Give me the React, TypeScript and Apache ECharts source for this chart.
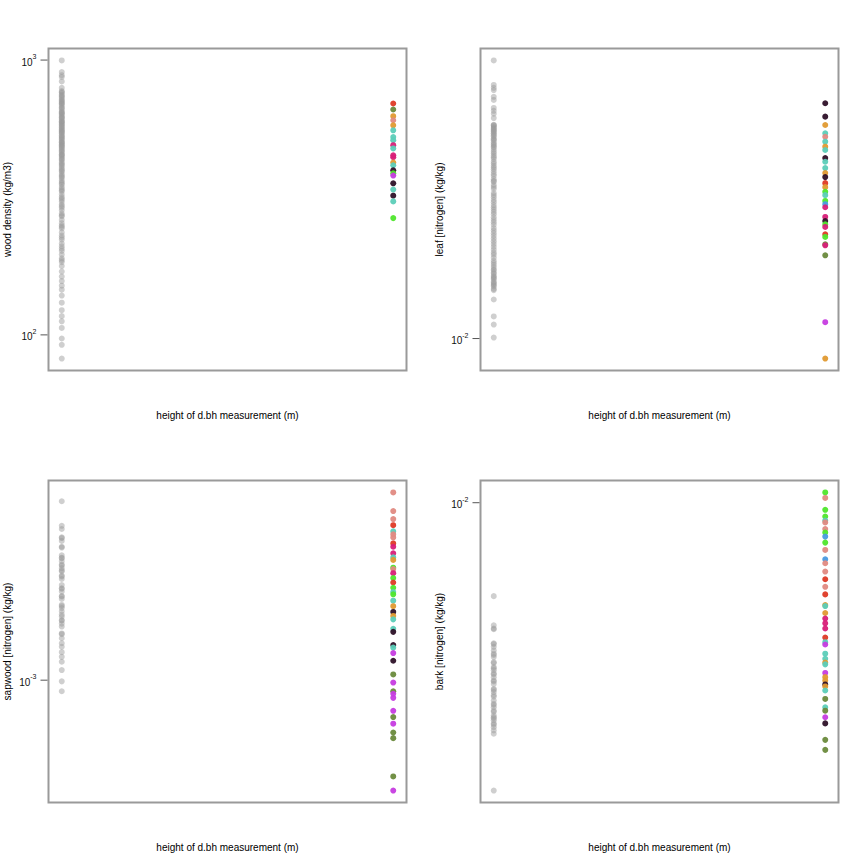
import React, { useEffect, useRef } from "react";
import * as echarts from "echarts";

// x positions (height of d.bh measurement, m)
const allStudiesHeight = 1.3;
const thisStudyHeight = 1.4;
const xRange = [allStudiesHeight, thisStudyHeight];

const panelTitles = [
  "wood density (kg/m3)",
  "leaf [nitrogen] (kg/kg)",
  "sapwood [nitrogen] (kg/kg)",
  "bark [nitrogen] (kg/kg)",
];
const xTitle = "height of d.bh measurement (m)";

const yTicks1 = [100, 1000];
const yTicks2 = [0.01];
const yTicks3 = [0.001];
const yTicks4 = [0.01];

// group (species) keys of the study, coloured by palette below
const groupColors: Record<string, string> = {
  R: "#de3a26",
  O: "#6a8a3c",
  Y: "#e09a32",
  P: "#e08a82",
  T: "#5ccdb8",
  M: "#d81f78",
  V: "#c63ce0",
  G: "#4fe62c",
  D: "#2e1128",
  B: "#4a9ae0",
};

// ---- wood density ----
const woodAll = [997, 905, 881, 868, 836, 792, 771, 765, 760, 748, 742, 735, 728, 718, 712, 706, 700, 695, 690, 681, 672, 668, 659, 650, 645, 641, 636, 630, 622, 618, 615, 608, 600, 598, 594, 590, 584, 580, 575, 570, 566, 560, 556, 552, 548, 544, 540, 533, 529, 525, 520, 516, 512, 505, 502, 500, 495, 491, 488, 484, 480, 475, 470, 466, 462, 455, 452, 450, 445, 440, 436, 432, 425, 420, 416, 412, 405, 400, 396, 392, 385, 380, 376, 372, 365, 360, 356, 352, 345, 340, 336, 333, 325, 318, 314, 310, 305, 298, 294, 290, 284, 276, 272, 270, 262, 255, 250, 247, 244, 236, 230, 226, 222, 215, 210, 206, 202, 196, 190, 187, 184, 178, 170, 163, 157, 151, 146, 139, 131, 123, 117, 112, 106, 97, 92, 82];
const woodStudy = [695, 661, 625, 604, 579, 555, 525, 511, 490, 477, 450, 443, 424, 414, 397, 387, 380, 356, 338, 321, 306, 266];
const woodGroups = ["R", "O", "Y", "P", "Y", "T", "T", "T", "M", "T", "M", "M", "Y", "T", "D", "G", "V", "D", "T", "D", "T", "G"];

// ---- leaf nitrogen ----
const leafAll = [0.0537, 0.0463, 0.0455, 0.0449, 0.0431, 0.0423, 0.0403, 0.0396, 0.0389, 0.0379, 0.0364, 0.0363, 0.0362, 0.0359, 0.0357, 0.0355, 0.0353, 0.0351, 0.0349, 0.0346, 0.0344, 0.0341, 0.0339, 0.0335, 0.0333, 0.0331, 0.0327, 0.0324, 0.0322, 0.0319, 0.0317, 0.0313, 0.0309, 0.0306, 0.0302, 0.0299, 0.0296, 0.0291, 0.0288, 0.0284, 0.0281, 0.0278, 0.0274, 0.0270, 0.0267, 0.0262, 0.0259, 0.0258, 0.0253, 0.0250, 0.0247, 0.0241, 0.0238, 0.0235, 0.0231, 0.0228, 0.0224, 0.0221, 0.0218, 0.0215, 0.0212, 0.0208, 0.0205, 0.0202, 0.0199, 0.0195, 0.0192, 0.0189, 0.0186, 0.0183, 0.0180, 0.0177, 0.0174, 0.0171, 0.0168, 0.0166, 0.0163, 0.0160, 0.0158, 0.0156, 0.0154, 0.0152, 0.0151, 0.0149, 0.0148, 0.0146, 0.0145, 0.0144, 0.0143, 0.0141, 0.0140, 0.0139, 0.0138, 0.0137, 0.0135, 0.0134, 0.01266, 0.01143, 0.01088, 0.01006];
const leafStudy = [0.04146, 0.03823, 0.03635, 0.03457, 0.03386, 0.03286, 0.03188, 0.03125, 0.02977, 0.02911, 0.02802, 0.02718, 0.02653, 0.02558, 0.02497, 0.02427, 0.02379, 0.02297, 0.02252, 0.02211, 0.02085, 0.02035, 0.01995, 0.01963, 0.01878, 0.01848, 0.01767, 0.01757, 0.01654, 0.01104, 0.00886];
const leafGroups = ["D", "D", "Y", "T", "P", "T", "Y", "T", "D", "T", "T", "Y", "D", "R", "Y", "G", "T", "G", "B", "M", "M", "D", "G", "M", "R", "G", "O", "M", "O", "V", "Y"];

// ---- sapwood nitrogen ----
const sapAll = [0.00460, 0.00373, 0.00363, 0.00338, 0.00336, 0.00328, 0.00312, 0.00310, 0.00290, 0.00284, 0.00283, 0.00276, 0.00268, 0.00266, 0.00260, 0.00255, 0.00253, 0.00244, 0.00242, 0.00237, 0.00225, 0.00219, 0.00218, 0.00213, 0.00205, 0.00204, 0.00200, 0.00190, 0.00188, 0.00185, 0.00180, 0.00175, 0.00172, 0.00167, 0.00166, 0.00162, 0.00158, 0.00149, 0.00148, 0.00143, 0.00137, 0.00133, 0.00127, 0.00122, 0.00117, 0.00109, 0.00099, 0.00091];
const sapStudy = [0.00496, 0.00423, 0.00395, 0.00375, 0.00356, 0.00347, 0.00338, 0.00321, 0.00312, 0.00295, 0.00285, 0.00279, 0.00261, 0.00258, 0.00249, 0.00239, 0.00230, 0.00220, 0.00212, 0.00208, 0.00197, 0.00188, 0.00179, 0.00173, 0.00168, 0.00155, 0.00151, 0.00135, 0.00132, 0.00126, 0.00118, 0.00105, 0.00098, 0.00091, 0.00089, 0.00086, 0.00077, 0.00073, 0.00069, 0.00064, 0.00061, 0.00044, 0.00039];
const sapGroups = ["P", "P", "P", "R", "T", "P", "P", "R", "M", "M", "T", "Y", "G", "P", "M", "G", "R", "G", "T", "G", "T", "Y", "D", "Y", "T", "T", "D", "D", "T", "V", "D", "O", "V", "O", "V", "V", "V", "O", "V", "O", "O", "O", "V"];

// ---- bark nitrogen ----
const barkAll = [0.00569, 0.00477, 0.00468, 0.00466, 0.00428, 0.00426, 0.00419, 0.00410, 0.00402, 0.00399, 0.00394, 0.00382, 0.00380, 0.00371, 0.00368, 0.00364, 0.00357, 0.00355, 0.00349, 0.00342, 0.00340, 0.00335, 0.00325, 0.00323, 0.00319, 0.00313, 0.00310, 0.00303, 0.00297, 0.00295, 0.00291, 0.00285, 0.00283, 0.00277, 0.00274, 0.00272, 0.00269, 0.00264, 0.00262, 0.00258, 0.00253, 0.00248, 0.00176];
const barkStudy = [0.01064, 0.01029, 0.00958, 0.00920, 0.00898, 0.00888, 0.00853, 0.00835, 0.00815, 0.00786, 0.00752, 0.00711, 0.00694, 0.00660, 0.00630, 0.00602, 0.00575, 0.00539, 0.00536, 0.00514, 0.00497, 0.00483, 0.00468, 0.00443, 0.00431, 0.00425, 0.00402, 0.00390, 0.00381, 0.00377, 0.00358, 0.00349, 0.00342, 0.00334, 0.00330, 0.00322, 0.00306, 0.00291, 0.00285, 0.00274, 0.00264, 0.00239, 0.00225];
const barkGroups = ["G", "P", "G", "G", "T", "P", "P", "G", "B", "G", "P", "B", "P", "P", "R", "P", "R", "Y", "T", "Y", "M", "M", "M", "R", "T", "V", "T", "T", "Y", "T", "V", "Y", "Y", "D", "Y", "T", "O", "T", "O", "V", "D", "O", "O"];

const panels = [
  { all: woodAll, study: woodStudy, groups: woodGroups, ticks: yTicks1 },
  { all: leafAll, study: leafStudy, groups: leafGroups, ticks: yTicks2 },
  { all: sapAll, study: sapStudy, groups: sapGroups, ticks: yTicks3 },
  { all: barkAll, study: barkStudy, groups: barkGroups, ticks: yTicks4 },
];

const FONT = "Liberation Sans, Arial, Helvetica, sans-serif";
const BORDER = "#9a9a9a";
const TICK_LEN = 7;

function rExtentLog(vals: number[]): [number, number] {
  const lo = Math.log10(Math.min(...vals));
  const hi = Math.log10(Math.max(...vals));
  const pad = 0.04 * (hi - lo);
  return [Math.pow(10, lo - pad), Math.pow(10, hi + pad)];
}

function rExtentLin(vals: number[]): [number, number] {
  const lo = Math.min(...vals);
  const hi = Math.max(...vals);
  const pad = 0.04 * (hi - lo);
  return [lo - pad, hi + pad];
}

export default function App() {
  const ref = useRef<HTMLDivElement>(null);
  useEffect(() => {
    if (!ref.current) return;
    const chart = echarts.init(ref.current, undefined, { renderer: "svg" });
    const lefts = [48.5, 480.5, 48.5, 480.5];
    const tops = [48.5, 48.5, 480.5, 480.5];
    const [xmin, xmax] = rExtentLin(xRange);
    const grids: any[] = [];
    const xAxes: any[] = [];
    const yAxes: any[] = [];
    const series: any[] = [];
    panels.forEach((p, i) => {
      grids.push({
        left: lefts[i],
        top: tops[i],
        width: 358,
        height: 322,
        show: true,
        borderColor: BORDER,
        borderWidth: 2,
        backgroundColor: "transparent",
      });
      xAxes.push({
        gridIndex: i,
        type: "value",
        min: xmin,
        max: xmax,
        name: xTitle,
        nameLocation: "middle",
        nameGap: 40,
        nameTextStyle: { fontFamily: FONT, fontSize: 10, color: "#000" },
        axisLine: { show: false },
        axisTick: { show: false },
        axisLabel: { show: false },
        splitLine: { show: false },
      });
      const [ymin, ymax] = rExtentLog([...p.all, ...p.study]);
      yAxes.push({
        gridIndex: i,
        type: "log",
        logBase: 10,
        min: ymin,
        max: ymax,
        name: panelTitles[i],
        nameLocation: "middle",
        nameGap: 36,
        nameRotate: 90,
        nameTextStyle: { fontFamily: FONT, fontSize: 10, color: "#000" },
        axisLine: { show: false },
        axisTick: { show: false },
        axisLabel: {
          show: true,
          margin: 12,
          customValues: p.ticks,
          formatter: (v: number) => {
            const e = Math.round(Math.log10(v));
            return "{b|10}{s|" + e + "}";
          },
          rich: {
            b: { fontFamily: FONT, fontSize: 10, color: "#111", lineHeight: 14, verticalAlign: "bottom" },
            s: { fontFamily: FONT, fontSize: 7, color: "#111", lineHeight: 14, verticalAlign: "top" },
          },
        },
        splitLine: { show: false },
        minorTick: { show: false },
      });
      // y-axis tick marks, placed through the axis scale
      series.push({
        type: "custom",
        xAxisIndex: i,
        yAxisIndex: i,
        silent: true,
        clip: false,
        data: p.ticks.map((t) => [xmin, t]),
        encode: { x: 0, y: 1 },
        renderItem: (_params: any, api: any) => {
          const pt = api.coord([api.value(0), api.value(1)]);
          return {
            type: "line",
            shape: { x1: pt[0] - 1 - TICK_LEN, y1: pt[1], x2: pt[0] - 1, y2: pt[1] },
            style: { stroke: "#555", lineWidth: 1 },
          };
        },
      });
      series.push({
        type: "scatter",
        xAxisIndex: i,
        yAxisIndex: i,
        symbolSize: 6,
        itemStyle: { color: "rgba(155,155,155,0.6)" },
        data: p.all.map((v) => [allStudiesHeight, v]),
        silent: true,
      });
      series.push({
        type: "scatter",
        xAxisIndex: i,
        yAxisIndex: i,
        symbolSize: 6,
        data: p.study.map((v, k) => ({
          value: [thisStudyHeight, v],
          itemStyle: { color: groupColors[p.groups[k]], opacity: 0.95 },
        })),
        silent: true,
      });
    });
    chart.setOption({
      animation: false,
      backgroundColor: "#fff",
      grid: grids,
      xAxis: xAxes,
      yAxis: yAxes,
      series,
    });
    return () => chart.dispose();
  }, []);
  return (
    <div
      ref={ref}
      style={{ position: "absolute", left: 0, top: 0, width: 864, height: 864 }}
    />
  );
}
